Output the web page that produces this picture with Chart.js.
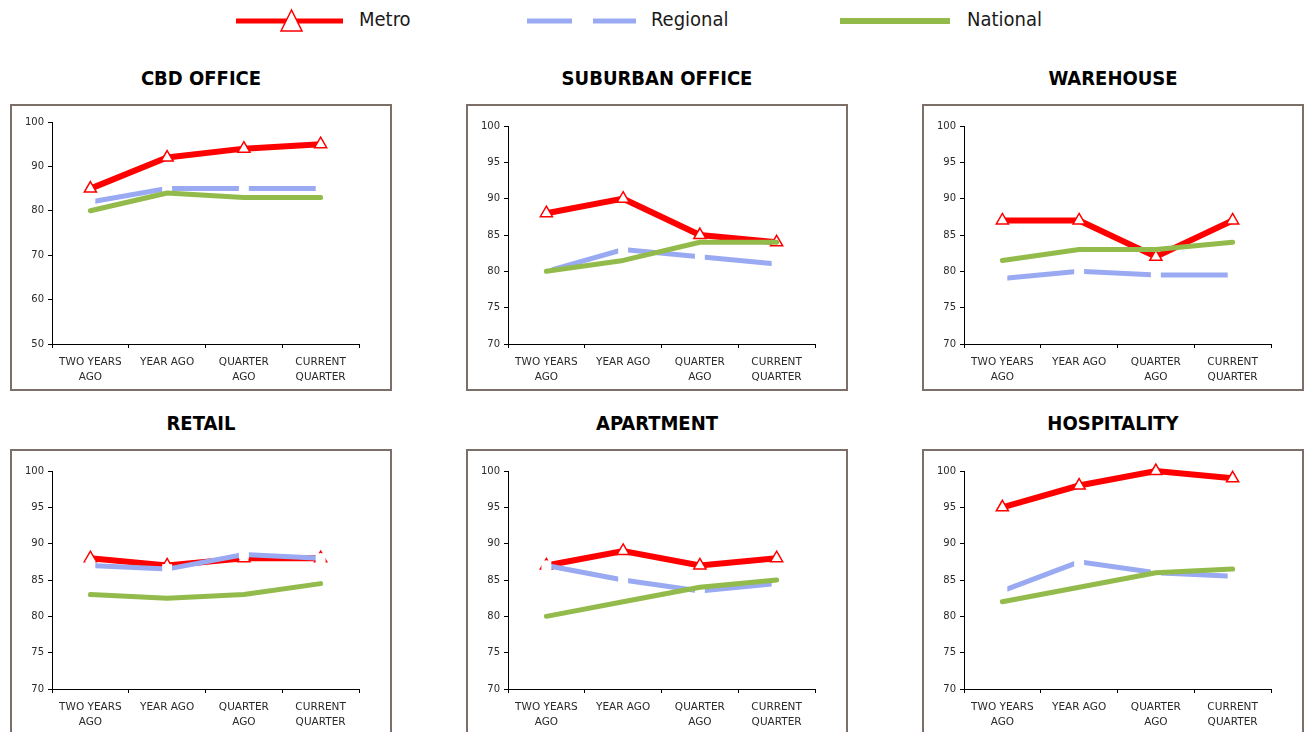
<!DOCTYPE html>
<html>
<head>
<meta charset="utf-8">
<script src="https://cdn.jsdelivr.net/npm/chart.js@4.4.1/dist/chart.umd.min.js"></script>
<style>
  body { margin: 0; background: #fff; width: 1304px; height: 732px; overflow: hidden; position: relative; font-family: "DejaVu Sans", sans-serif; }
  .legend-text { position: absolute; top: 7px; font: 20px "DejaVu Sans Condensed", "DejaVu Sans", sans-serif; color: #1a1a1a; }
  .title { position: absolute; width: 382px; text-align: center; font: bold 20px "DejaVu Sans Condensed", "DejaVu Sans", sans-serif; color: #000; }
  .box { position: absolute; width: 382px; height: 287px; border: 2px solid #7b6f67; box-sizing: border-box; }
  .box canvas { display: block; }
</style>
</head>
<body>

<svg style="position:absolute;left:236px;top:8px" width="107" height="26">
  <line x1="0" y1="13" x2="107" y2="13" stroke="#ff0000" stroke-width="5"/>
  <polygon points="55.5,2 45,23 66,23" fill="#fff" stroke="#ff0000" stroke-width="1.5"/>
</svg>
<div class="legend-text" style="left:359px">Metro</div>
<svg style="position:absolute;left:527px;top:8px" width="110" height="26">
  <line x1="0" y1="13" x2="45" y2="13" stroke="#99aaf2" stroke-width="5"/>
  <line x1="66" y1="13" x2="109" y2="13" stroke="#99aaf2" stroke-width="5"/>
</svg>
<div class="legend-text" style="left:651px">Regional</div>
<svg style="position:absolute;left:838px;top:8px" width="114" height="26">
  <line x1="2" y1="13" x2="112" y2="13" stroke="#93bb4b" stroke-width="6"/>
</svg>
<div class="legend-text" style="left:967px">National</div>

<div id="panels"></div>

<script>
const categories = [['TWO YEARS', 'AGO'], 'YEAR AGO', ['QUARTER', 'AGO'], ['CURRENT', 'QUARTER']];
const seriesNames = ['Metro', 'Regional', 'National'];
const panelTitles = ['CBD OFFICE', 'SUBURBAN OFFICE', 'WAREHOUSE', 'RETAIL', 'APARTMENT', 'HOSPITALITY'];

const cbdMetro = [85, 92, 94, 95];
const cbdRegional = [82, 85, 85, 85];
const cbdNational = [80, 84, 83, 83];

const suburbanMetro = [88, 90, 85, 84];
const suburbanRegional = [80, 83, 82, 81];
const suburbanNational = [80, 81.5, 84, 84];

const warehouseMetro = [87, 87, 82, 87];
const warehouseRegional = [79, 80, 79.5, 79.5];
const warehouseNational = [81.5, 83, 83, 84];

const retailMetro = [88, 87, 88, 88];
const retailRegional = [87, 86.5, 88.5, 88];
const retailNational = [83, 82.5, 83, 84.5];

const apartmentMetro = [87, 89, 87, 88];
const apartmentRegional = [87, 85, 83.5, 84.5];
const apartmentNational = [80, 82, 84, 85];

const hospitalityMetro = [95, 98, 100, 99];
const hospitalityRegional = [83.5, 87.5, 86, 85.5];
const hospitalityNational = [82, 84, 86, 86.5];

// y-axis ranges: [min, max, step]
const yRanges = [[50, 100, 10], [70, 100, 5], [70, 100, 5], [70, 100, 5], [70, 100, 5], [70, 100, 5]];

const panelData = [
  [cbdMetro, cbdRegional, cbdNational],
  [suburbanMetro, suburbanRegional, suburbanNational],
  [warehouseMetro, warehouseRegional, warehouseNational],
  [retailMetro, retailRegional, retailNational],
  [apartmentMetro, apartmentRegional, apartmentNational],
  [hospitalityMetro, hospitalityRegional, hospitalityNational]
];

const colLeft = [10, 466, 922];
const rowTop = [104, 449];
const titleTop = [66, 411];

const holder = document.getElementById('panels');

panelData.forEach((series, i) => {
  const col = i % 3, row = Math.floor(i / 3);

  const t = document.createElement('div');
  t.className = 'title';
  t.style.left = colLeft[col] + 'px';
  t.style.top = titleTop[row] + 'px';
  t.textContent = panelTitles[i];
  holder.appendChild(t);

  const box = document.createElement('div');
  box.className = 'box';
  box.style.left = colLeft[col] + 'px';
  box.style.top = rowTop[row] + 'px';
  const cv = document.createElement('canvas');
  cv.width = 378; cv.height = 283;
  cv.style.width = '378px'; cv.style.height = '283px';
  box.appendChild(cv);
  holder.appendChild(box);

  const r = yRanges[i];

  new Chart(cv, {
    type: 'line',
    data: {
      labels: categories,
      datasets: [
        {
          label: seriesNames[0],
          data: series[0],
          borderColor: '#ff0000',
          borderWidth: 6,
          pointStyle: 'triangle',
          pointRadius: 7,
          pointBackgroundColor: '#ffffff',
          pointBorderColor: '#ff0000',
          pointBorderWidth: 1.5,
          order: 2
        },
        {
          label: seriesNames[1],
          data: series[1],
          borderColor: '#99aaf2',
          borderWidth: 5,
          pointStyle: 'rect',
          pointRadius: 7,
          pointBackgroundColor: '#ffffff',
          pointBorderColor: '#ffffff',
          pointBorderWidth: 0,
          order: 1
        },
        {
          label: seriesNames[2],
          data: series[2],
          borderColor: '#93bb4b',
          borderWidth: 5,
          borderCapStyle: 'round',
          borderJoinStyle: 'round',
          pointRadius: 0,
          order: 0
        }
      ]
    },
    options: {
      responsive: false,
      animation: false,
      devicePixelRatio: 1,
      clip: false,
      layout: { padding: { top: i === 0 ? 16 : 20, right: 31, left: 0, bottom: 0 } },
      plugins: { legend: { display: false }, tooltip: { enabled: false } },
      scales: {
        x: {
          offset: true,
          grid: { display: true, offset: true, drawOnChartArea: false, drawTicks: true, tickLength: 4, color: '#000' },
          border: { display: true, color: '#000', width: 1 },
          ticks: { color: '#2a2a2a', font: { family: 'DejaVu Sans', size: 10.5, lineHeight: 1.4 }, padding: 7, maxRotation: 0, autoSkip: false },
          afterFit: s => { s.height = 45; }
        },
        y: {
          min: r[0], max: r[1],
          grid: { display: true, drawOnChartArea: false, drawTicks: true, tickLength: 4, color: '#000' },
          border: { display: true, color: '#000', width: 1 },
          ticks: { stepSize: r[2], color: '#2a2a2a', font: { family: 'DejaVu Sans', size: 10 }, padding: 4 },
          afterFit: s => { s.width = 40; }
        }
      }
    }
  });
});
</script>
</body>
</html>
